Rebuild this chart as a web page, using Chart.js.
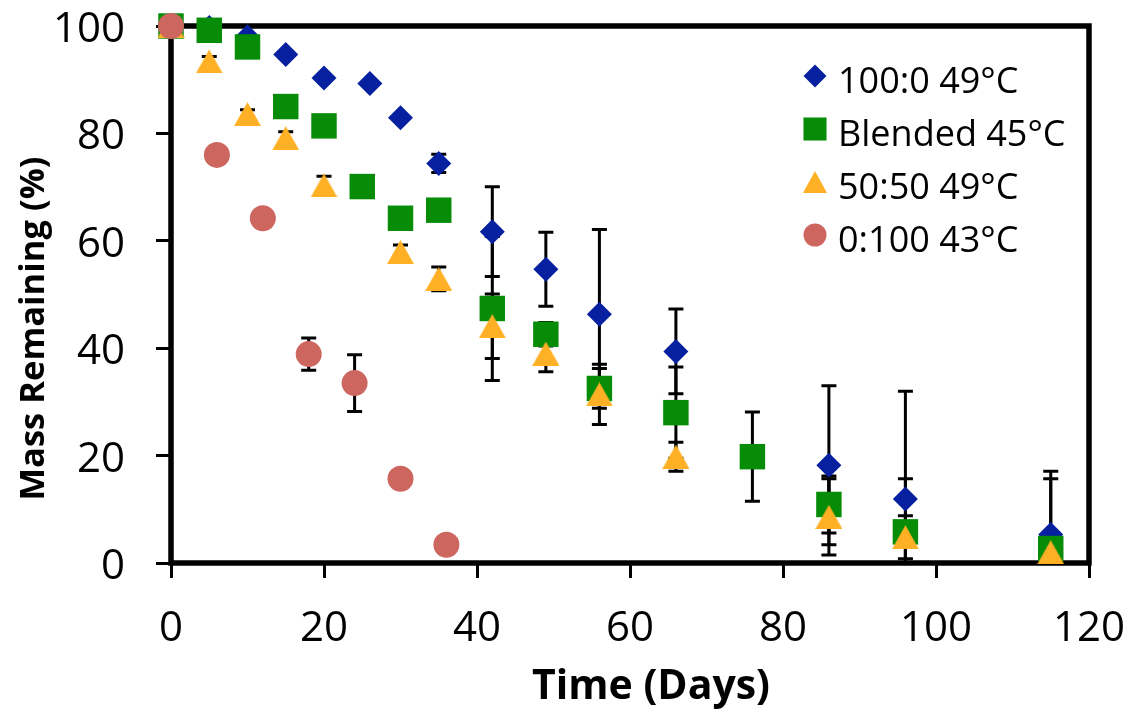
<!DOCTYPE html>
<html>
<head>
<meta charset="utf-8">
<script src="https://cdn.jsdelivr.net/npm/chart.js@4.4.1/dist/chart.umd.min.js"></script>
<style>
  html, body { margin: 0; padding: 0; background: #fff; }
  #wrap { width: 1135px; height: 715px; }
</style>
</head>
<body>
<div id="wrap"><canvas id="massChart" width="1135" height="715"></canvas></div>
<script>
// data (days, % mass remaining, +/- error)
const daysBlue = [0, 5, 10, 15, 20, 26, 30, 35, 42, 49, 56, 66, 86, 96, 115];
const massBlue = [100, 99.7, 98.0, 94.7, 90.3, 89.3, 82.9, 74.4, 61.7, 54.7, 46.3, 39.4, 18.2, 11.9, 5.3];
const errBlue  = [0, 0, 0, 0, 0, 0, 0, 1.7, 8.35, 6.9, 15.8, 7.9, 14.8, 20.1, 11.8];

const daysGreen = [0, 5, 10, 15, 20, 25, 30, 35, 42, 49, 56, 66, 76, 86, 96, 115];
const massGreen = [100, 99.2, 96.1, 85.0, 81.4, 70.1, 64.2, 65.7, 47.4, 42.6, 32.5, 28.0, 19.8, 10.9, 5.8, 2.7];
const errGreen  = [0, 0, 0, 0, 0, 0, 0, 0, 13.4, 2.2, 3.7, 8.5, 8.3, 5.3, 9.9, 13.0];

const daysTri = [0, 5, 10, 15, 20, 30, 35, 42, 49, 56, 66, 86, 96, 115];
const massTri = [100, 93.4, 83.6, 79.1, 70.3, 57.9, 52.9, 44.1, 39.0, 31.4, 19.8, 8.6, 4.8, 2.0];
const errTri  = [0, 0.9, 0.8, 1.2, 1.7, 1.3, 2.2, 6.0, 3.4, 5.6, 2.7, 7.1, 4.0, 0];

const daysRed = [0, 6, 12, 18, 24, 30, 36];
const massRed = [100, 76.0, 64.2, 38.9, 33.5, 15.7, 3.4];
const errRed  = [0, 0, 0, 3.0, 5.3, 0, 0];

const seriesLabels = ['100:0 49°C', 'Blended 45°C', '50:50 49°C', '0:100 43°C'];
const xTickValues = [0, 20, 40, 60, 80, 100, 120];
const yTickValues = [0, 20, 40, 60, 80, 100];
const xTitle = 'Time (Days)';
const yTitle = 'Mass Remaining (%)';

// colors
const colors = {
    blue: '#0620A0',
    green: '#078C07',
    orange: '#FFB024',
    red: '#CD665F'
};

const fontFamily = "'Open Sans', sans-serif";

function toPoints(xs, ys) {
    return xs.map((x, i) => ({ x: x, y: ys[i] }));
}

// triangle centred on its box (like Excel markers)
function makeTriangle(w, h, color) {
    const c = document.createElement('canvas');
    c.width = w;
    c.height = h;
    const g = c.getContext('2d');
    g.fillStyle = color;
    g.beginPath();
    g.moveTo(w / 2, 0);
    g.lineTo(w, h);
    g.lineTo(0, h);
    g.closePath();
    g.fill();
    return c;
}

const triPlot = makeTriangle(27, 24, colors.orange);
const triLegend = makeTriangle(24, 22, colors.orange);

// plot frame
const plotFrame = {
    id: 'plotFrame',
    beforeDatasetsDraw(chart) {
        const { ctx, chartArea: a } = chart;
        ctx.save();
        ctx.strokeStyle = '#000';
        ctx.lineWidth = 5.5;
        ctx.strokeRect(a.left, a.top, a.right - a.left, a.bottom - a.top);
        ctx.restore();
    }
};

// error bars
const errorBars = {
    id: 'errorBars',
    beforeDatasetsDraw(chart) {
        const { ctx, chartArea: a } = chart;
        const xs = chart.scales.x;
        const ys = chart.scales.y;
        ctx.save();
        ctx.beginPath();
        ctx.rect(a.left, a.top, a.right - a.left, a.bottom - a.top);
        ctx.clip();
        ctx.strokeStyle = '#000';
        ctx.lineWidth = 3;
        chart.data.datasets.forEach(ds => {
            ds.data.forEach((pt, i) => {
                const e = ds.errors[i];
                if (!e) return;
                const px = xs.getPixelForValue(pt.x);
                const top = ys.getPixelForValue(pt.y + e);
                const bot = ys.getPixelForValue(pt.y - e);
                ctx.beginPath();
                ctx.moveTo(px, top);
                ctx.lineTo(px, bot);
                ctx.moveTo(px - 7.5, top);
                ctx.lineTo(px + 7.5, top);
                ctx.moveTo(px - 7.5, bot);
                ctx.lineTo(px + 7.5, bot);
                ctx.stroke();
            });
        });
        ctx.restore();
    }
};

// axis titles (Excel puts them a bit off-centre)
const axisTitles = {
    id: 'axisTitles',
    afterDraw(chart) {
        const { ctx, chartArea: a } = chart;
        ctx.save();
        ctx.fillStyle = '#000';
        ctx.textAlign = 'center';
        ctx.textBaseline = 'middle';
        ctx.font = 'bold 41px ' + fontFamily;
        ctx.fillText(xTitle, (a.left + a.right) / 2 + 21, 687);
        ctx.translate(34, (a.top + a.bottom) / 2 + 34);
        ctx.rotate(-Math.PI / 2);
        ctx.font = 'bold 34.5px ' + fontFamily;
        ctx.fillText(yTitle, 0, 0);
        ctx.restore();
    }
};

// legend inside the plot
const insideLegend = {
    id: 'insideLegend',
    afterDatasetsDraw(chart) {
        const { ctx, chartArea: a } = chart;
        const markerX = a.right - 274;
        const textX = a.right - 251;
        ctx.save();
        ctx.font = '36px ' + fontFamily;
        ctx.textAlign = 'left';
        ctx.textBaseline = 'alphabetic';
        chart.data.datasets.forEach((ds, i) => {
            const base = a.top + 67 + i * 53;
            const my = base - 17;
            ctx.fillStyle = ds.backgroundColor;
            ctx.strokeStyle = ds.backgroundColor;
            Chart.helpers.drawPoint(ctx, {
                pointStyle: ds.legendStyle,
                radius: ds.legendRadius,
                rotation: 0,
                borderWidth: 0
            }, markerX, my);
            ctx.fillStyle = '#000';
            ctx.fillText(ds.label, textX, base);
        });
        ctx.restore();
    }
};

const datasets = [
    {
        label: seriesLabels[0],
        data: toPoints(daysBlue, massBlue),
        errors: errBlue,
        pointStyle: 'rectRot',
        pointRadius: 12.5,
        legendStyle: 'rectRot',
        legendRadius: 11.5,
        backgroundColor: colors.blue,
        borderColor: colors.blue,
        borderWidth: 0,
        order: 4
    },
    {
        label: seriesLabels[1],
        data: toPoints(daysGreen, massGreen),
        errors: errGreen,
        pointStyle: 'rect',
        pointRadius: 18,
        legendStyle: 'rect',
        legendRadius: 16.3,
        backgroundColor: colors.green,
        borderColor: colors.green,
        borderWidth: 0,
        order: 3
    },
    {
        label: seriesLabels[2],
        data: toPoints(daysTri, massTri),
        errors: errTri,
        pointStyle: triPlot,
        pointRadius: 14,
        legendStyle: triLegend,
        legendRadius: 12,
        backgroundColor: colors.orange,
        borderColor: colors.orange,
        borderWidth: 0,
        order: 2
    },
    {
        label: seriesLabels[3],
        data: toPoints(daysRed, massRed),
        errors: errRed,
        pointStyle: 'circle',
        pointRadius: 13,
        legendStyle: 'circle',
        legendRadius: 11.5,
        backgroundColor: colors.red,
        borderColor: colors.red,
        borderWidth: 0,
        order: 1
    }
];

datasets.forEach(ds => {
    ds.showLine = false;
    ds.clip = false;
    ds.pointHoverRadius = ds.pointRadius;
});

const tickFont = { family: fontFamily, size: 42 };

new Chart(document.getElementById('massChart'), {
    type: 'scatter',
    data: { datasets: datasets },
    plugins: [plotFrame, errorBars, insideLegend, axisTitles],
    options: {
        responsive: false,
        animation: false,
        events: [],
        layout: {
            padding: { left: 0, top: 26, right: 46, bottom: 0 }
        },
        plugins: {
            legend: { display: false },
            tooltip: { enabled: false }
        },
        scales: {
            x: {
                type: 'linear',
                min: 0,
                max: 120,
                afterBuildTicks: s => { s.ticks = xTickValues.map(v => ({ value: v })); },
                afterFit: s => {
                    s.height = 152;
                    s.paddingLeft = 0;
                    s.paddingRight = 0;
                },
                ticks: { color: '#000', font: tickFont, padding: 26 },
                grid: {
                    drawOnChartArea: false,
                    drawTicks: true,
                    tickLength: 15,
                    tickColor: '#000',
                    tickWidth: 3
                },
                border: { display: false }
            },
            y: {
                type: 'linear',
                min: 0,
                max: 100,
                afterBuildTicks: s => { s.ticks = yTickValues.map(v => ({ value: v })); },
                afterFit: s => {
                    s.width = 171;
                    s.paddingTop = 0;
                    s.paddingBottom = 0;
                },
                ticks: { color: '#000', font: tickFont, padding: 31, labelOffset: 4 },
                grid: {
                    drawOnChartArea: false,
                    drawTicks: true,
                    tickLength: 15,
                    tickColor: '#000',
                    tickWidth: 3
                },
                border: { display: false }
            }
        }
    }
});
</script>
</body>
</html>
